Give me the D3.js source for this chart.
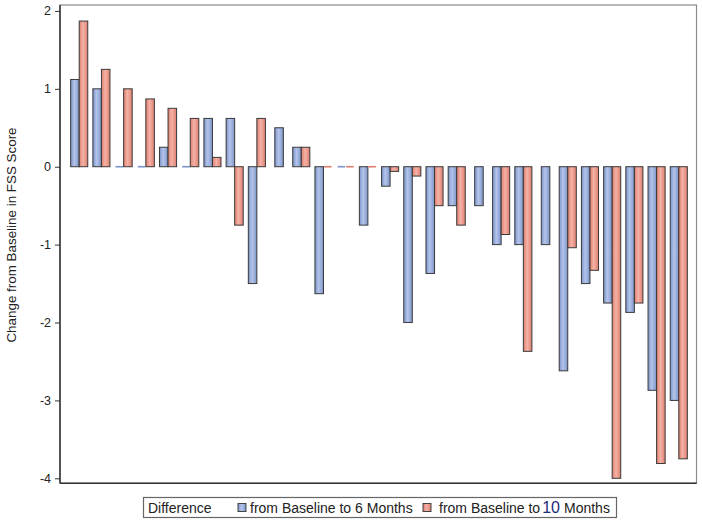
<!DOCTYPE html>
<html><head><meta charset="utf-8">
<script src="https://cdn.jsdelivr.net/npm/d3@7"></script>
<style>html,body{margin:0;padding:0;background:#fff;}svg{display:block;font-family:"Liberation Sans",Arial,sans-serif;}</style>
</head><body>
<svg id="c" width="702" height="522"></svg>
<script>
const categories = d3.range(1, 29).map(String);
const series = ["from Baseline to 6 Months", "from Baseline to 10 Months"];
const sixMonths = [1.12, 1.0, 0, 0, 0.25, 0, 0.62, 0.62, -1.5, 0.5, 0.25, -1.63, 0, -0.75, -0.25, -2.0, -1.37, -0.5, -0.5, -1.0, -1.0, -1.0, -2.62, -1.5, -1.75, -1.87, -2.87, -3.0];
const tenMonths = [1.87, 1.25, 1.0, 0.87, 0.75, 0.62, 0.12, -0.75, 0.62, null, 0.25, 0, 0, 0, -0.06, -0.12, -0.5, -0.75, null, -0.87, -2.37, null, -1.04, -1.33, -4.0, -1.75, -3.81, -3.75];
const yTicks = [-4, -3, -2, -1, 0, 1, 2];
const yLabel = "Change from Baseline in FSS Score";
const legendTitle = "Difference";

const svg = d3.select("#c");
const L = 60, R = 696.5, T = 5, B = 483.3;
const x = d3.scaleBand().domain(categories).range([L + 1, R + 0.5]).paddingInner(0).paddingOuter(0.32);
const y = d3.scaleLinear().domain([-4.064, 2.076]).range([B, T]);
const colors = ["#7C95CA", "#DE7E6F"];
const light = ["#b4c4ea", "#f4b2a6"];

const defs = svg.append("defs");
colors.forEach((c, i) => {
  const g = defs.append("linearGradient").attr("id", "g" + i).attr("x1", 0).attr("x2", 1).attr("y1", 0).attr("y2", 0);
  g.append("stop").attr("offset", "0%").attr("stop-color", c);
  g.append("stop").attr("offset", "45%").attr("stop-color", light[i]);
  g.append("stop").attr("offset", "100%").attr("stop-color", c);
});

// frame
svg.append("rect").attr("x", L).attr("y", T).attr("width", R - L).attr("height", B - T)
  .attr("fill", "none").attr("stroke", "#8a8a8a").attr("stroke-width", 1.2);

const data = categories.map((c, i) => {
  const vals = [sixMonths[i], tenMonths[i]].map((v, s) => ({ s, v })).filter(d => d.v !== null);
  return { c, vals };
});
const bw = x.bandwidth() * 0.385;

const bars = svg.append("g");
data.forEach(d => {
  const center = x(d.c) + x.bandwidth() / 2;
  const n = d.vals.length;
  d.vals.forEach((b, k) => {
    const x0 = center - n * bw / 2 + k * bw;
    if (b.v === 0) {
      bars.append("rect").attr("x", x0 + 0.5).attr("y", y(0) - 0.8).attr("width", bw - 1).attr("height", 1.6)
        .attr("fill", colors[b.s]);
    } else {
      const y1 = Math.min(y(0), y(b.v)), y2 = Math.max(y(0), y(b.v));
      bars.append("rect").attr("x", x0).attr("y", y1).attr("width", bw).attr("height", y2 - y1)
        .attr("fill", `url(#g${b.s})`).attr("stroke", "#3a3a3a").attr("stroke-width", 1);
    }
  });
});

// y axis
const ax = svg.append("g").attr("transform", `translate(${L},0)`)
  .call(d3.axisLeft(y).tickValues(yTicks).tickSize(5).tickPadding(4).tickFormat(d => String(d)));
ax.select(".domain").attr("stroke", "#333").attr("stroke-width", 1.5).attr("d", `M0,${T}V${B}`);
ax.selectAll(".tick line").attr("stroke", "#333");
ax.selectAll(".tick text").attr("font-size", 12.5).attr("fill", "#222").attr("font-family", "Liberation Sans, Arial, sans-serif");
// bottom axis line
svg.append("line").attr("x1", L).attr("x2", R).attr("y1", B).attr("y2", B).attr("stroke", "#333").attr("stroke-width", 1.5);

svg.append("text").attr("transform", "translate(16,235) rotate(-90)").attr("text-anchor", "middle")
  .attr("font-size", 13.4).attr("fill", "#222").text(yLabel);

// legend
const lg = svg.append("g");
lg.append("rect").attr("x", 143.5).attr("y", 497.5).attr("width", 473).attr("height", 20)
  .attr("fill", "#fff").attr("stroke", "#666").attr("stroke-width", 1.2);
lg.append("text").attr("x", 148).attr("y", 512.5).attr("font-size", 14).attr("fill", "#222").text(legendTitle);
const lx = [238, 423], tx = [250, 439];
series.forEach((s, i) => {
  lg.append("rect").attr("x", lx[i]).attr("y", 503.5).attr("width", 8).attr("height", 8)
    .attr("fill", `url(#g${i})`).attr("stroke", "#444").attr("stroke-width", 1);
  const t = lg.append("text").attr("x", tx[i]).attr("y", 512.5).attr("font-size", 14).attr("fill", "#222");
  if (i === 1) {
    t.append("tspan").text("from Baseline to");
    t.append("tspan").attr("dx", 2).attr("fill", "#1c2c78").attr("font-size", 16).text("10");
    t.append("tspan").attr("dx", 4).text("Months");
  } else t.text(s);
});
</script>
</body></html>
